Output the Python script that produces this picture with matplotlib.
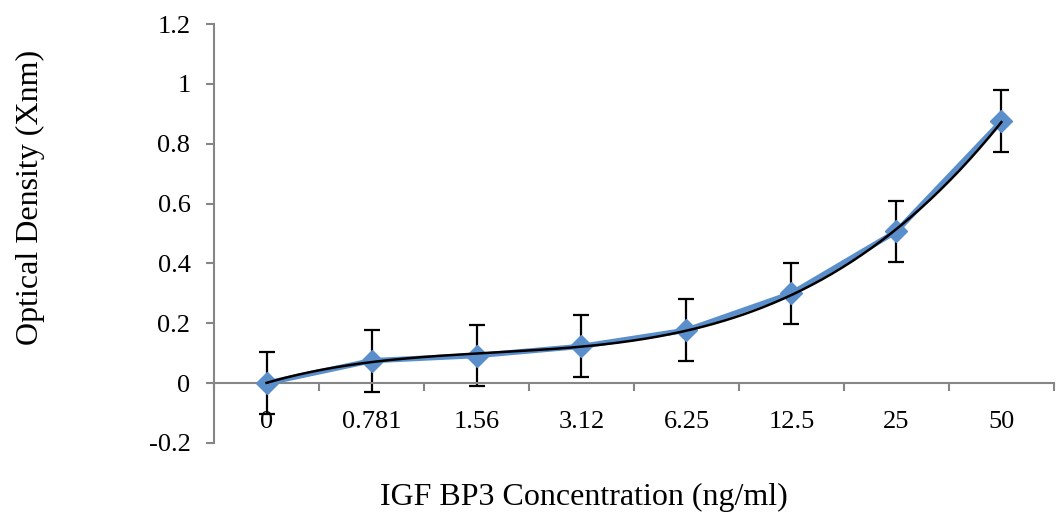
import numpy as np
import matplotlib
matplotlib.use("Agg")
import matplotlib.pyplot as plt
from matplotlib.ticker import FixedLocator

# values
concentrations = ["0", "0.781", "1.56", "3.12", "6.25", "12.5", "25", "50"]
optical_density = [0.0, 0.075, 0.092, 0.123, 0.177, 0.300, 0.507, 0.875]
od_error = [0.103, 0.103, 0.103, 0.103, 0.103, 0.103, 0.103, 0.103]
y_ticks = [-0.2, 0, 0.2, 0.4, 0.6, 0.8, 1, 1.2]

blue = "#5A8FCB"
grey = "#868686"
serif = "Liberation Serif"

fig = plt.figure(figsize=(10.56, 5.29), dpi=100)
ax = fig.add_axes([0.2027, 0.1626, 0.7953, 0.792])

x = np.arange(len(concentrations))

# data series with error bars
ax.errorbar(x, optical_density, yerr=od_error, fmt="none", ecolor="black",
            elinewidth=1.6, capsize=6, capthick=1.6, zorder=2)
ax.plot(x, optical_density, color=blue, lw=3.8, marker="D", ms=11,
        mfc=blue, mec=blue, zorder=3)

# polynomial trendline (Excel style, fitted on category index 1..n)
idx = x + 1
coef = np.polyfit(idx, optical_density, 3)
xs = np.linspace(idx[0], idx[-1], 300)
ax.plot(xs - 1, np.polyval(coef, xs), color="black", lw=1.8, zorder=4)

ax.set_xlim(-0.5, len(concentrations) - 0.5)
ax.set_ylim(-0.2, 1.2)

ax.spines["top"].set_visible(False)
ax.spines["right"].set_visible(False)
ax.spines["bottom"].set_position(("data", 0))
for s in ("left", "bottom"):
    ax.spines[s].set_color(grey)
    ax.spines[s].set_linewidth(1.5)

ax.set_yticks(y_ticks)
ax.set_yticklabels([f"{v:g}" for v in y_ticks])
ax.tick_params(axis="y", length=6, width=1.5, color=grey, pad=11,
               labelsize=19)

ax.set_xticks(x)
ax.set_xticklabels(concentrations)
ax.xaxis.set_minor_locator(FixedLocator(np.arange(-0.5, len(concentrations), 1)))
ax.tick_params(axis="x", which="major", length=0, pad=20, labelsize=19)
ax.tick_params(axis="x", which="minor", length=6, width=1.5, color=grey)

for lab in ax.get_xticklabels() + ax.get_yticklabels():
    lab.set_fontfamily(serif)

fig.text(0.553, 0.06, "IGF BP3 Concentration (ng/ml)", ha="center",
         va="center", fontsize=23, family=serif)
fig.text(0.029, 0.626, "Optical Density (Xnm)", ha="center", va="center",
         rotation=90, fontsize=23, family=serif)

fig.savefig("out.png", dpi=100)
